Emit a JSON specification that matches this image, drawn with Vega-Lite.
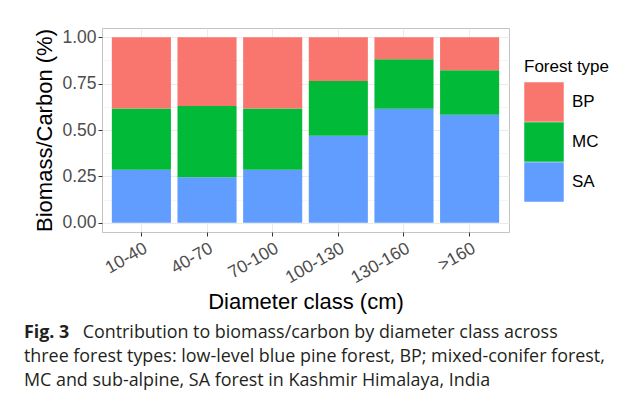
{
  "$schema": "https://vega.github.io/schema/vega-lite/v6.json",
  "width": 407,
  "height": 204,
  "autosize": {"type": "none"},
  "padding": {"left": 102, "top": 28, "right": 121, "bottom": 171},
  "background": "white",
  "title": {
    "text": "Fig. 3",
    "subtitle": [
      "\u200b\u00a0\u00a0\u00a0\u00a0\u00a0\u00a0\u00a0\u00a0\u00a0\u00a0\u00a0\u00a0\u2009Contribution to biomass/carbon by diameter class across",
      "three forest types: low-level blue pine forest, BP; mixed-conifer forest,",
      "MC and sub-alpine, SA forest in Kashmir Himalaya, India"
    ],
    "orient": "bottom",
    "anchor": "start",
    "frame": "bounds",
    "font": "Open Sans",
    "fontSize": 17.9,
    "fontWeight": "bold",
    "color": "#231f20",
    "lineHeight": 24,
    "baseline": "top",
    "subtitleFont": "Open Sans",
    "subtitleFontSize": 17.9,
    "subtitleColor": "#231f20",
    "subtitleLineHeight": 24,
    "subtitlePadding": -17.9,
    "offset": 12,
    "dx": -10
  },
  "data": {
    "values": [
      {"dclass": "10-40", "type": "SA", "value": 0.285},
      {"dclass": "10-40", "type": "MC", "value": 0.331},
      {"dclass": "10-40", "type": "BP", "value": 0.384},
      {"dclass": "40-70", "type": "SA", "value": 0.245},
      {"dclass": "40-70", "type": "MC", "value": 0.384},
      {"dclass": "40-70", "type": "BP", "value": 0.371},
      {"dclass": "70-100", "type": "SA", "value": 0.285},
      {"dclass": "70-100", "type": "MC", "value": 0.331},
      {"dclass": "70-100", "type": "BP", "value": 0.384},
      {"dclass": "100-130", "type": "SA", "value": 0.469},
      {"dclass": "100-130", "type": "MC", "value": 0.295},
      {"dclass": "100-130", "type": "BP", "value": 0.236},
      {"dclass": "130-160", "type": "SA", "value": 0.615},
      {"dclass": "130-160", "type": "MC", "value": 0.266},
      {"dclass": "130-160", "type": "BP", "value": 0.119},
      {"dclass": ">160", "type": "SA", "value": 0.582},
      {"dclass": ">160", "type": "MC", "value": 0.240},
      {"dclass": ">160", "type": "BP", "value": 0.178}
    ]
  },
  "mark": {"type": "bar"},
  "encoding": {
    "x": {
      "field": "dclass",
      "type": "nominal",
      "sort": ["10-40", "40-70", "70-100", "100-130", "130-160", ">160"],
      "scale": {"paddingInner": 0.1, "paddingOuter": 0.15},
      "axis": {
        "title": "Diameter class (cm)",
        "grid": true,
        "bandPosition": 0.5,
        "labelAngle": -30,
        "labelAlign": "right",
        "labelBaseline": "top",
        "labelPadding": 3,
        "titlePadding": 5
      }
    },
    "y": {
      "field": "value",
      "type": "quantitative",
      "stack": "zero",
      "scale": {"domain": [-0.05, 1.05], "nice": false, "zero": false},
      "axis": {
        "title": "Biomass/Carbon (%)",
        "values": [0, 0.125, 0.25, 0.375, 0.5, 0.625, 0.75, 0.875, 1],
        "labelExpr": "(datum.value * 4) % 1 === 0 ? format(datum.value, '.2f') : ''",
        "gridWidth": {"condition": {"test": "(datum.value * 4) % 1 !== 0", "value": 0.5}, "value": 1},
        "tickOpacity": {"condition": {"test": "(datum.value * 4) % 1 !== 0", "value": 0}, "value": 1},
        "titlePadding": 5
      }
    },
    "color": {
      "field": "type",
      "type": "nominal",
      "scale": {"domain": ["BP", "MC", "SA"], "range": ["#F8766D", "#00BA38", "#619CFF"]},
      "legend": {
        "title": "Forest type",
        "orient": "none",
        "legendX": 422,
        "legendY": 31,
        "symbolType": "square",
        "symbolSize": 1560,
        "symbolStrokeWidth": 0,
        "symbolOpacity": 1,
        "rowPadding": 0,
        "labelOffset": 8,
        "titlePadding": 6
      }
    },
    "order": {"field": "type", "sort": "descending"}
  },
  "config": {
    "view": {"stroke": "#c4c4c4", "strokeWidth": 1},
    "axis": {
      "labelFont": "Liberation Sans",
      "labelFontSize": 17.5,
      "labelColor": "#4d4d4d",
      "titleFont": "Liberation Sans",
      "titleFontSize": 22,
      "titleFontWeight": "normal",
      "titleColor": "#000000",
      "domain": false,
      "tickColor": "#333333",
      "tickSize": 4,
      "gridColor": "#ebebeb"
    },
    "legend": {
      "labelFont": "Liberation Sans",
      "labelFontSize": 17,
      "labelColor": "#000000",
      "titleFont": "Liberation Sans",
      "titleFontSize": 17,
      "titleFontWeight": "normal",
      "titleColor": "#000000"
    }
  }
}
